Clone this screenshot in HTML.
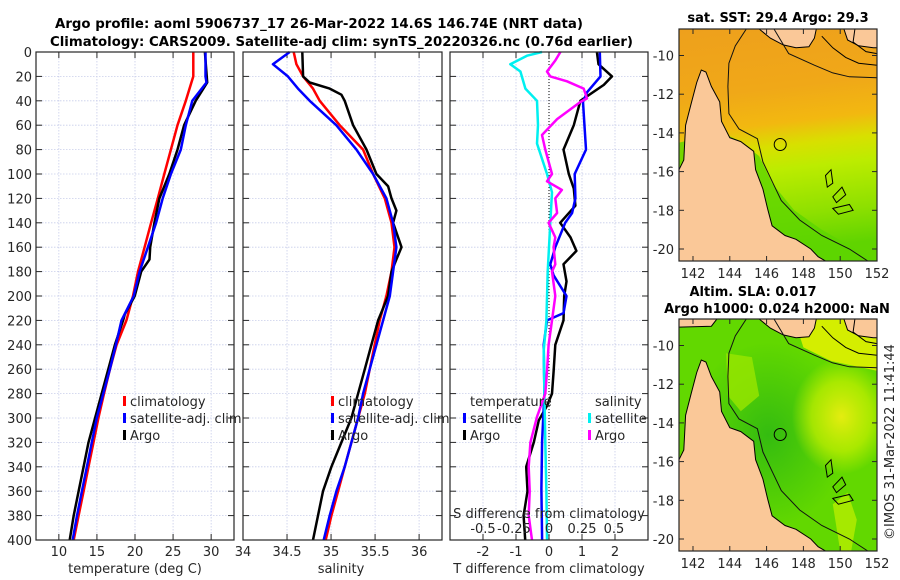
<!DOCTYPE html>
<html><head><meta charset="utf-8">
<style>
html,body{margin:0;padding:0;background:#fff;}
svg{display:block;font-family:"DejaVu Sans","Liberation Sans",sans-serif;}
.tk{font-size:13px;fill:#262626;}
.tt{font-size:13px;font-weight:bold;fill:#000;}
</style></head>
<body>
<svg id="fig" width="900" height="580" viewBox="0 0 900 580" xmlns="http://www.w3.org/2000/svg">
<defs>
<linearGradient id="sstGrad" x1="0" y1="0" x2="0.1" y2="1">
<stop offset="0" stop-color="#eea01c"/><stop offset="0.3" stop-color="#f0a818"/><stop offset="0.45" stop-color="#f2b810"/><stop offset="0.55" stop-color="#d8e000"/><stop offset="0.65" stop-color="#bcec00"/><stop offset="0.85" stop-color="#8ee000"/><stop offset="1" stop-color="#60d400"/>
</linearGradient>
<radialGradient id="slaYellow" cx="0.82" cy="0.42" r="0.25"><stop offset="0" stop-color="#e4ec10"/><stop offset="0.6" stop-color="#c8f000" stop-opacity="0.7"/><stop offset="1" stop-color="#c8f000" stop-opacity="0"/></radialGradient>
<radialGradient id="slaDark" cx="0.45" cy="0.5" r="0.4"><stop offset="0" stop-color="#34bc10"/><stop offset="1" stop-color="#34bc10" stop-opacity="0"/></radialGradient>
<clipPath id="clipMap1"><rect x="679" y="29" width="198" height="232"/></clipPath>
<clipPath id="clipMap2"><rect x="679" y="319" width="198" height="232"/></clipPath>
</defs>

<text class="tt" x="55" y="28" textLength="528" lengthAdjust="spacingAndGlyphs">Argo profile: aoml 5906737_17 26-Mar-2022 14.6S 146.74E (NRT data)</text>
<text class="tt" x="50" y="46" textLength="583" lengthAdjust="spacingAndGlyphs">Climatology: CARS2009. Satellite-adj clim: synTS_20220326.nc (0.76d earlier)</text>

<g id="panels"></g>
<g id="maps"></g>

<text class="tk" transform="translate(894,540) rotate(-90)" font-size="13">©IMOS 31-Mar-2022 11:41:44</text>
</svg>

<script>
// ---------- Data ----------
const depthTicks = [0,20,40,60,80,100,120,140,160,180,200,220,240,260,280,300,320,340,360,380,400];

const tempClimDepth = [0,20,40,60,80,100,120,140,160,180,200,220,240,260,280,300,320,340,360,380,400];
const tempClimVal   = [27.66,27.66,26.67,25.58,24.72,23.85,22.99,22.12,21.26,20.39,19.74,18.87,17.58,16.71,15.93,15.19,14.55,13.9,13.25,12.6,11.95];
const tempSatDepth  = [0,20,25,40,60,80,100,120,140,160,180,200,220,240,260,280,300,320,340,360,380,400];
const tempSatVal    = [29.26,29.26,29.39,27.53,26.67,26.02,24.72,23.64,22.77,21.69,20.61,19.83,18.23,17.49,16.71,15.84,14.98,14.33,13.68,13.03,12.38,11.82];
const tempArgoDepth = [0,25,40,60,80,100,120,140,160,170,180,200,215,220,240,260,280,300,320,340,360,380,400];
const tempArgoVal   = [29.18,29.48,27.97,26.45,25.58,24.5,23.2,22.55,21.99,21.9,20.82,19.96,18.66,18.44,17.36,16.49,15.63,14.76,13.9,13.25,12.6,11.95,11.43];

const salClimDepth = [0,10,20,30,40,60,80,100,120,140,160,180,200,220,240,260,280,300,320,340,360,380,400];
const salClimVal   = [34.576,34.606,34.682,34.795,34.871,35.098,35.364,35.477,35.61,35.686,35.72,35.686,35.629,35.553,35.496,35.439,35.383,35.307,35.231,35.155,35.08,35.004,34.939];
const salSatDepth  = [0,10,20,30,40,60,80,100,120,140,160,180,200,220,240,260,280,300,320,340,360,380,400];
const salSatVal    = [34.53,34.34,34.51,34.625,34.758,35.06,35.288,35.477,35.629,35.705,35.742,35.705,35.667,35.591,35.515,35.439,35.364,35.307,35.231,35.155,35.061,34.985,34.917];
const salArgoDepth = [0,20,25,30,35,40,60,80,100,110,120,130,140,160,170,180,200,220,240,260,280,300,320,340,360,380,400];
const salArgoVal   = [34.674,34.682,34.758,34.985,35.117,35.155,35.25,35.402,35.515,35.648,35.686,35.742,35.705,35.8,35.742,35.686,35.648,35.534,35.458,35.383,35.307,35.231,35.117,35.004,34.909,34.852,34.795];

const dTSatDepth  = [0,20,33,41,80,100,120,132,140,160,174,183,200,214,220,240,280,319,358,400];
const dTSatVal    = [1.54,1.56,1.15,1.03,1.12,0.78,0.8,0.7,0.49,0.19,0.04,0.14,0.53,0.44,-0.06,-0.16,-0.14,-0.21,-0.23,-0.21];
const dTArgoDepth = [0,10,20,27,40,60,80,100,112,126,140,152,163,174,188,200,220,240,262,280,290,302,320,340,360,380,400];
const dTArgoVal   = [1.45,1.5,1.91,1.66,0.95,0.75,0.44,0.6,0.75,0.8,0.34,0.65,0.83,0.44,0.53,0.46,0.44,0.19,0.14,0.09,-0.06,-0.31,-0.46,-0.69,-0.65,-0.77,-0.72];
const dSSatDepth  = [0,3,10,16,30,40,60,75,100,115,140,180,220,245,280,320,360,400];
const dSSatVal    = [-0.053,-0.167,-0.293,-0.217,-0.179,-0.091,-0.083,-0.091,-0.015,0.023,0.01,-0.01,-0.02,-0.04,-0.035,-0.028,-0.02,-0.015];
const dSArgoDepth = [0,7,16,20,24,30,38,41,55,68,80,100,106,113,120,132,140,152,160,174,180,200,220,240,262,280,299,320,340,360,380,400];
const dSArgoVal   = [0.086,0.048,-0.015,0.01,0.136,0.263,0.288,0.237,0.061,-0.053,-0.028,0.023,-0.015,0.098,0.048,0.061,-0.003,0.048,0.035,0.048,0.023,0.048,0.023,-0.003,-0.015,-0.028,-0.091,-0.141,-0.154,-0.146,-0.154,-0.129];

const tempTicks = [10,15,20,25,30];
const salTicks = [34,34.5,35,35.5,36];
const salTickLabels = ["34","34.5","35","35.5","36"];
const dTTicks = [-2,-1,0,1,2];
const dSTickLabels = ["-0.5","-0.25","0","0.25","0.5"];
const lonTicks = [142,144,146,148,150,152];
const latTicks = [-10,-12,-14,-16,-18,-20];
const argoLon = 146.74, argoLat = -14.6;

// ---------- helpers ----------
const NS = "http://www.w3.org/2000/svg";
function mk(tag, attrs, parent){const e=document.createElementNS(NS,tag);for(const k in attrs)e.setAttribute(k,attrs[k]);if(parent)parent.appendChild(e);return e;}
function lin(d0,d1,r0,r1){return v=>r0+(v-d0)/(d1-d0)*(r1-r0);}

const Y0=52, Y1=540;
const yDepth = lin(0,400,Y0,Y1);
const panels = document.getElementById('panels');

function panelFrame(x0,x1,name,xTicksPix){
  const g=mk('g',{},panels);
  
  
  depthTicks.forEach(d=>{
    if(d>0&&d<400){
      const gl=mk('line',{x1:x0,x2:x1,y1:yDepth(d),y2:yDepth(d),stroke:'#c8cdea','stroke-width':0.8,'stroke-dasharray':'1.5,1.5'},g);
      
      
    }
    mk('line',{x1:x0,x2:x0+6,y1:yDepth(d),y2:yDepth(d),stroke:'#262626','stroke-width':1},g);
    mk('line',{x1:x1-6,x2:x1,y1:yDepth(d),y2:yDepth(d),stroke:'#262626','stroke-width':1},g);
  });
  xTicksPix.forEach(px=>{
    const gl=mk('line',{x1:px,x2:px,y1:Y0,y2:Y1,stroke:'#c8cdea','stroke-width':0.8,'stroke-dasharray':'1.5,1.5'},g);
    
    
    mk('line',{x1:px,x2:px,y1:Y1,y2:Y1-6,stroke:'#262626','stroke-width':1},g);
    mk('line',{x1:px,x2:px,y1:Y0,y2:Y0+6,stroke:'#262626','stroke-width':1},g);
  });
  return g;
}
function drawLine(g,xs,ds,xf,color,name,w){
  const pts=xs.map((v,i)=>xf(v).toFixed(1)+','+yDepth(ds[i]).toFixed(1)).join(' ');
  const p=mk('polyline',{points:pts,fill:'none',stroke:color,'stroke-width':w||2.5,'stroke-linejoin':'round'},g);
  
  
}
function border(g,x0,x1){mk('rect',{x:x0,y:Y0,width:x1-x0,height:Y1-Y0,fill:'none',stroke:'#262626','stroke-width':1.2},g);}
function text(g,x,y,s,anchor,name,cls,extra){
  const t=mk('text',Object.assign({x:x,y:y,'text-anchor':anchor||'middle','class':cls||'tk'},extra||{}),g);
  t.textContent=s;
  
  
  return t;
}
function legendEntry(g,x,y,color,label,name){
  mk('rect',{x:x,y:y-10,width:3,height:10,fill:color},g);
  const t=text(g,x+7,y,label,'start',name);
  
  
}

// ---------- Panel 1: temperature ----------
const xT = lin(7,33,36,234);
const g1 = panelFrame(36,234,'temperature-panel',tempTicks.map(xT));
depthTicks.forEach(d=>text(g1,32,yDepth(d)+5,String(d),'end','depth-tick-label'));
tempTicks.forEach(v=>text(g1,xT(v),556,String(v),'middle','temperature-tick-label'));
text(g1,135,573,'temperature (deg C)','middle','temperature-axis-title');
drawLine(g1,tempClimVal,tempClimDepth,xT,'#ff0000','temp-climatology-line');
drawLine(g1,tempArgoVal,tempArgoDepth,xT,'#000000','temp-argo-line');
drawLine(g1,tempSatVal,tempSatDepth,xT,'#0000ff','temp-satellite-line');
border(g1,36,234);
legendEntry(g1,123,406,'#ff0000','climatology','legend-climatology');
legendEntry(g1,123,423,'#0000ff','satellite-adj. clim','legend-satellite-adj');
legendEntry(g1,123,440,'#000000','Argo','legend-argo');

// ---------- Panel 2: salinity ----------
const xS = lin(34,36.26,243,442);
const g2 = panelFrame(243,442,'salinity-panel',salTicks.slice(1).map(xS));
salTicks.forEach((v,i)=>text(g2,xS(v),556,salTickLabels[i],'middle','salinity-tick-label'));
text(g2,341,573,'salinity','middle','salinity-axis-title');
drawLine(g2,salClimVal,salClimDepth,xS,'#ff0000','sal-climatology-line');
drawLine(g2,salArgoVal,salArgoDepth,xS,'#000000','sal-argo-line');
drawLine(g2,salSatVal,salSatDepth,xS,'#0000ff','sal-satellite-line');
border(g2,243,442);
legendEntry(g2,331,406,'#ff0000','climatology','legend-climatology-2');
legendEntry(g2,331,423,'#0000ff','satellite-adj. clim','legend-satellite-adj-2');
legendEntry(g2,331,440,'#000000','Argo','legend-argo-2');

// ---------- Panel 3: differences ----------
const xD = lin(-3,3,450,648);
const xDS = v=>xD(v*4);
const g3 = panelFrame(450,648,'difference-panel',dTTicks.map(xD));
dTTicks.forEach(v=>text(g3,xD(v),556,String(v),'middle','t-diff-tick-label'));
text(g3,549,573,'T difference from climatology','middle','t-diff-axis-title');
const zl=mk('line',{x1:xD(0),x2:xD(0),y1:Y0,y2:Y1,stroke:'#000','stroke-width':1,'stroke-dasharray':'1,2'},g3);


drawLine(g3,dTArgoVal,dTArgoDepth,xD,'#000000','t-diff-argo-line');
drawLine(g3,dTSatVal,dTSatDepth,xD,'#0000ff','t-diff-satellite-line');
drawLine(g3,dSSatVal,dSSatDepth,xDS,'#00f0f0','s-diff-satellite-line');
drawLine(g3,dSArgoVal,dSArgoDepth,xDS,'#ff00ff','s-diff-argo-line');
border(g3,450,648);
text(g3,549,518,'S difference from climatology','middle','s-diff-axis-title');
const sLabelPix=[483,514,549,582,614];
dSTickLabels.forEach((s,i)=>text(g3,sLabelPix[i],533,s,'middle','s-diff-tick-label'));
text(g3,470,406,'temperature','start','legend-temperature-header');
text(g3,595,406,'salinity','start','legend-salinity-header');
legendEntry(g3,463,423,'#0000ff','satellite','legend-t-satellite');
legendEntry(g3,463,440,'#000000','Argo','legend-t-argo');
legendEntry(g3,588,423,'#00f0f0','satellite','legend-s-satellite');
legendEntry(g3,588,440,'#ff00ff','Argo','legend-s-argo');

// ---------- Maps ----------
const maps=document.getElementById('maps');
const MX0=679, MX1=877;
const lonX = lin(141.24,152,MX0,MX1);
const capeYork=[[141.24,-15.9],[141.5,-15.4],[141.6,-13.6],[141.9,-12.5],[142.2,-11.4],[142.45,-10.75],[142.7,-10.85],[143.0,-11.6],[143.45,-12.4],[143.55,-13.4],[144.0,-14.25],[144.6,-14.45],[145.3,-14.95],[145.4,-15.9],[145.8,-16.9],[146.05,-17.9],[146.3,-18.8],[147.0,-19.3],[147.6,-19.5],[148.4,-20.0],[148.8,-20.4],[149.2,-20.62],[141.24,-20.62]];
const pngCoast=[[145.6,-8.63],[146.2,-9.1],[146.9,-9.45],[147.6,-9.6],[148.3,-9.55],[148.6,-9.1],[148.7,-8.63]];
const pngEast=[[150.2,-8.63],[150.4,-9.2],[151.0,-9.5],[151.8,-9.6],[152,-9.6],[152,-8.63]];
const topLeftLand=[[141.24,-8.63],[143.3,-8.63],[143.0,-9.0],[141.24,-9.05]];
const contour200=[[144.9,-8.63],[144.3,-9.5],[143.95,-10.4],[143.9,-11.6],[143.95,-13.0],[144.5,-13.8],[145.5,-14.3],[145.8,-15.5],[146.3,-16.5],[146.8,-17.5],[147.8,-18.5],[149.0,-19.3],[150.5,-20.0],[151.5,-20.62]];
const contourNorth=[[146.4,-8.63],[147.2,-9.9],[148.6,-10.5],[149.6,-10.9],[150.5,-11.1],[152,-11.15]];
const islandLines=[[[149.0,-9.0],[149.6,-9.6],[150.3,-10.1],[151.0,-10.4],[152,-10.5]],[[150.8,-8.63],[150.7,-9.3],[151.4,-9.8],[152,-9.9]]];
const reefs=[[[149.2,-16.2],[149.5,-15.9],[149.6,-16.6],[149.3,-16.8]],[[149.6,-17.3],[150.1,-16.8],[150.3,-17.2],[149.8,-17.6]],[[149.6,-17.9],[150.5,-17.7],[150.7,-18.0],[149.9,-18.2]]];

function drawMap(yTop,name,kind){
  const latY = lin(-8.63,-20.62,yTop,yTop+232);
  const g=mk('g',{},maps);
  
  
  const clip=kind==='sst'?'url(#clipMap1)':'url(#clipMap2)';
  const inner=mk('g',{'clip-path':clip},g);
  const pp=arr=>arr.map(p=>lonX(p[0]).toFixed(1)+','+latY(p[1]).toFixed(1)).join(' ');
  if(kind==='sst'){
    mk('rect',{x:MX0,y:yTop,width:198,height:232,fill:'url(#sstGrad)'},inner);
    mk('polygon',{points:pp([[141.24,-14.5],[143.6,-14.0],[144.5,-14.4],[145.6,-15.2],[146.3,-16.6],[147.5,-18],[149,-19],[151,-20.1],[152,-20.62],[141.24,-20.62]]),fill:'#5cd400',opacity:0.8},inner);
  } else {
    mk('rect',{x:MX0,y:yTop,width:198,height:232,fill:'#62d800'},inner);
    mk('rect',{x:MX0,y:yTop,width:198,height:232,fill:'url(#slaDark)'},inner);
    mk('rect',{x:MX0,y:yTop,width:198,height:232,fill:'url(#slaYellow)'},inner);
    mk('polygon',{points:pp([[147.5,-8.63],[152,-8.63],[152,-11.3],[149.5,-10.8],[148,-10.1]]),fill:'#d4ee00'},inner);
    mk('polygon',{points:pp([[143.8,-10.4],[145.2,-10.6],[145.6,-12.6],[144.6,-13.4],[143.9,-12.6]]),fill:'#9ae600',opacity:0.8},inner);
    mk('polygon',{points:pp([[149.6,-18.2],[150.4,-17.6],[150.9,-19.0],[150.6,-20.62],[150.0,-20.62]]),fill:'#b8ee00',opacity:0.8},inner);
  }
  const landStyle={fill:'#fac898',stroke:'#000','stroke-width':1};
  const lands=kind==='sst'?[capeYork,pngCoast,pngEast]:[capeYork,pngCoast,pngEast,topLeftLand];
  lands.forEach(poly=>{
    const l=mk('polygon',Object.assign({points:pp(poly)},landStyle),inner);
    
    
  });
  reefs.forEach(r=>mk('polygon',{points:pp(r),fill:'none',stroke:'#000','stroke-width':1},inner));
  islandLines.forEach(r=>mk('polyline',{points:pp(r),fill:'none',stroke:'#000','stroke-width':1},inner));
  [contour200,contourNorth].forEach(c=>{
    const l=mk('polyline',{points:pp(c),fill:'none',stroke:'#111','stroke-width':1},inner);
    
    
  });
  const mkArgo=mk('circle',{cx:lonX(argoLon),cy:latY(argoLat),r:6,fill:'none',stroke:'#000','stroke-width':1},inner);
  
  
  mk('rect',{x:MX0,y:yTop,width:198,height:232,fill:'none',stroke:'#262626','stroke-width':1.2},g);
  lonTicks.forEach(v=>{
    const x=lonX(v);
    mk('line',{x1:x,x2:x,y1:yTop+232,y2:yTop+227,stroke:'#262626'},g);
    mk('line',{x1:x,x2:x,y1:yTop,y2:yTop+5,stroke:'#262626'},g);
    text(g,x,yTop+249,String(v),'middle','longitude-tick-label');
  });
  latTicks.forEach(v=>{
    const y=latY(v);
    mk('line',{x1:MX0,x2:MX0+5,y1:y,y2:y,stroke:'#262626'},g);
    mk('line',{x1:MX1-5,x2:MX1,y1:y,y2:y,stroke:'#262626'},g);
    text(g,674,y+5,String(v),'end','latitude-tick-label');
  });
  return g;
}
const gm1=drawMap(29,'sst-map','sst');
text(gm1,778,22,'sat. SST: 29.4 Argo: 29.3','middle','sst-map-title','tt');
const gm2=drawMap(319,'sla-map','sla');
text(gm2,753,296,'Altim. SLA: 0.017','middle','sla-map-title','tt');
text(gm2,777,313,'Argo h1000: 0.024 h2000: NaN','middle','sla-map-subtitle','tt');
</script>
</body></html>
